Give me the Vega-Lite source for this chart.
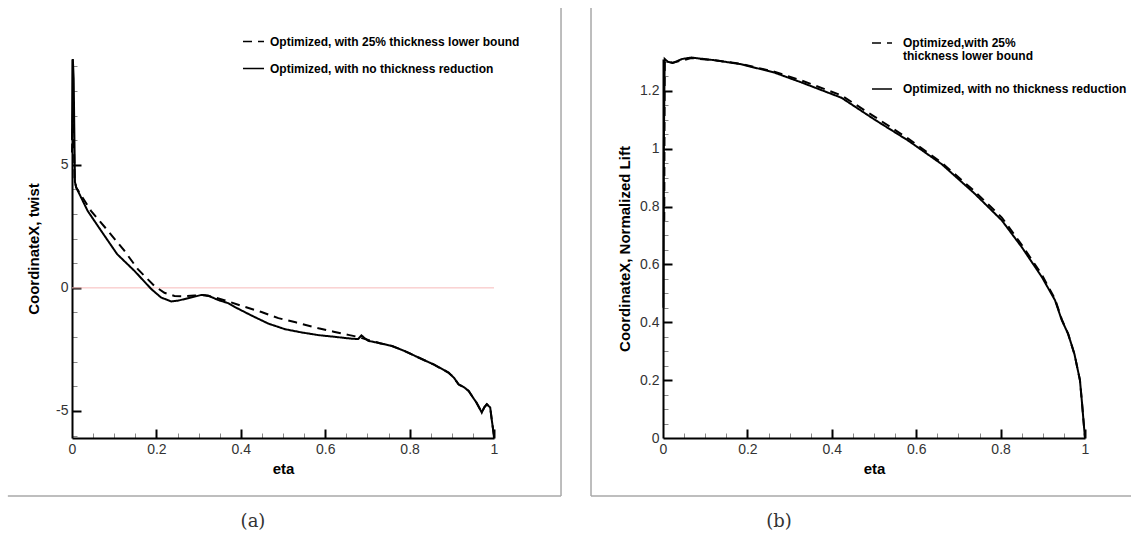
{
  "$schema": "https://vega.github.io/schema/vega-lite/v6.json",
  "background": "white",
  "padding": {"left": 7, "top": 7, "right": 0, "bottom": 0},
  "spacing": 28,
  "config": {
    "font": "Liberation Sans",
    "view": {"stroke": null},
    "style": {"guide-label": {"lineHeight": 13}},
    "axis": {
      "grid": false,
      "labelFont": "Liberation Sans",
      "labelFontSize": 14,
      "labelColor": "#333333",
      "labelFlush": false,
      "labelOverlap": false,
      "labelPadding": 4,
      "domainColor": "black",
      "domainWidth": 2,
      "titleFont": "Liberation Sans",
      "titleFontSize": 15,
      "titleFontWeight": "bold",
      "titleColor": "black"
    },
    "legend": {
      "title": null,
      "orient": "none",
      "labelFont": "Liberation Sans",
      "labelFontSize": 12,
      "labelFontWeight": "bold",
      "labelColor": "black",
      "labelLimit": 0,
      "symbolType": "stroke",
      "symbolStrokeColor": "black",
      "symbolStrokeWidth": 1.5
    }
  },
  "resolve": {
    "scale": {"x": "independent", "y": "independent", "strokeDash": "independent"},
    "legend": {"strokeDash": "independent"}
  },
  "hconcat": [
    {
      "width": 422,
      "height": 379,
      "title": {"text": "(a)", "orient": "bottom", "anchor": "middle", "font": "DejaVu Serif", "fontSize": 18, "fontWeight": "normal", "color": "#333333", "offset": 16, "dx": -30},
      "data": {
        "values": [
          {"eta": 0.000, "v": 5.5, "s": "bound"},
          {"eta": 0.003, "v": 7.6, "s": "bound"},
          {"eta": 0.006, "v": 4.4, "s": "bound"},
          {"eta": 0.010, "v": 4.08, "s": "bound"},
          {"eta": 0.045, "v": 3.13, "s": "bound"},
          {"eta": 0.085, "v": 2.32, "s": "bound"},
          {"eta": 0.124, "v": 1.51, "s": "bound"},
          {"eta": 0.156, "v": 0.76, "s": "bound"},
          {"eta": 0.195, "v": 0.08, "s": "bound"},
          {"eta": 0.219, "v": -0.2, "s": "bound"},
          {"eta": 0.243, "v": -0.33, "s": "bound"},
          {"eta": 0.267, "v": -0.34, "s": "bound"},
          {"eta": 0.290, "v": -0.31, "s": "bound"},
          {"eta": 0.310, "v": -0.29, "s": "bound"},
          {"eta": 0.330, "v": -0.35, "s": "bound"},
          {"eta": 0.361, "v": -0.5, "s": "bound"},
          {"eta": 0.409, "v": -0.77, "s": "bound"},
          {"eta": 0.449, "v": -0.98, "s": "bound"},
          {"eta": 0.489, "v": -1.23, "s": "bound"},
          {"eta": 0.530, "v": -1.4, "s": "bound"},
          {"eta": 0.584, "v": -1.64, "s": "bound"},
          {"eta": 0.620, "v": -1.78, "s": "bound"},
          {"eta": 0.655, "v": -1.91, "s": "bound"},
          {"eta": 0.680, "v": -2.0, "s": "bound"},
          {"eta": 0.702, "v": -2.12, "s": "bound"},
          {"eta": 0.730, "v": -2.25, "s": "bound"},
          {"eta": 0.758, "v": -2.36, "s": "bound"},
          {"eta": 0.790, "v": -2.58, "s": "bound"},
          {"eta": 0.821, "v": -2.83, "s": "bound"},
          {"eta": 0.858, "v": -3.12, "s": "bound"},
          {"eta": 0.892, "v": -3.44, "s": "bound"},
          {"eta": 0.905, "v": -3.65, "s": "bound"},
          {"eta": 0.916, "v": -3.92, "s": "bound"},
          {"eta": 0.930, "v": -4.05, "s": "bound"},
          {"eta": 0.940, "v": -4.19, "s": "bound"},
          {"eta": 0.950, "v": -4.45, "s": "bound"},
          {"eta": 0.958, "v": -4.65, "s": "bound"},
          {"eta": 0.966, "v": -4.9, "s": "bound"},
          {"eta": 0.971, "v": -5.07, "s": "bound"},
          {"eta": 0.977, "v": -4.85, "s": "bound"},
          {"eta": 0.983, "v": -4.73, "s": "bound"},
          {"eta": 0.991, "v": -4.86, "s": "bound"},
          {"eta": 0.995, "v": -5.4, "s": "bound"},
          {"eta": 0.999, "v": -5.9, "s": "bound"},
          {"eta": 1.000, "v": -6.1, "s": "bound"},
          {"eta": 0.000, "v": 6.0, "s": "none"},
          {"eta": 0.002, "v": 9.3, "s": "none"},
          {"eta": 0.004, "v": 8.5, "s": "none"},
          {"eta": 0.007, "v": 4.3, "s": "none"},
          {"eta": 0.010, "v": 4.08, "s": "none"},
          {"eta": 0.037, "v": 3.13, "s": "none"},
          {"eta": 0.069, "v": 2.32, "s": "none"},
          {"eta": 0.107, "v": 1.37, "s": "none"},
          {"eta": 0.148, "v": 0.69, "s": "none"},
          {"eta": 0.188, "v": -0.05, "s": "none"},
          {"eta": 0.211, "v": -0.39, "s": "none"},
          {"eta": 0.235, "v": -0.55, "s": "none"},
          {"eta": 0.251, "v": -0.52, "s": "none"},
          {"eta": 0.275, "v": -0.42, "s": "none"},
          {"eta": 0.306, "v": -0.29, "s": "none"},
          {"eta": 0.322, "v": -0.31, "s": "none"},
          {"eta": 0.346, "v": -0.49, "s": "none"},
          {"eta": 0.370, "v": -0.62, "s": "none"},
          {"eta": 0.386, "v": -0.78, "s": "none"},
          {"eta": 0.425, "v": -1.12, "s": "none"},
          {"eta": 0.465, "v": -1.45, "s": "none"},
          {"eta": 0.505, "v": -1.68, "s": "none"},
          {"eta": 0.544, "v": -1.81, "s": "none"},
          {"eta": 0.584, "v": -1.92, "s": "none"},
          {"eta": 0.623, "v": -1.99, "s": "none"},
          {"eta": 0.660, "v": -2.06, "s": "none"},
          {"eta": 0.678, "v": -2.08, "s": "none"},
          {"eta": 0.686, "v": -1.93, "s": "none"},
          {"eta": 0.694, "v": -2.05, "s": "none"},
          {"eta": 0.702, "v": -2.15, "s": "none"},
          {"eta": 0.730, "v": -2.25, "s": "none"},
          {"eta": 0.758, "v": -2.36, "s": "none"},
          {"eta": 0.790, "v": -2.58, "s": "none"},
          {"eta": 0.821, "v": -2.83, "s": "none"},
          {"eta": 0.858, "v": -3.12, "s": "none"},
          {"eta": 0.892, "v": -3.44, "s": "none"},
          {"eta": 0.905, "v": -3.65, "s": "none"},
          {"eta": 0.916, "v": -3.92, "s": "none"},
          {"eta": 0.930, "v": -4.05, "s": "none"},
          {"eta": 0.940, "v": -4.19, "s": "none"},
          {"eta": 0.950, "v": -4.45, "s": "none"},
          {"eta": 0.958, "v": -4.65, "s": "none"},
          {"eta": 0.966, "v": -4.9, "s": "none"},
          {"eta": 0.971, "v": -5.07, "s": "none"},
          {"eta": 0.977, "v": -4.85, "s": "none"},
          {"eta": 0.983, "v": -4.73, "s": "none"},
          {"eta": 0.991, "v": -4.86, "s": "none"},
          {"eta": 0.995, "v": -5.4, "s": "none"},
          {"eta": 0.999, "v": -5.9, "s": "none"},
          {"eta": 1.000, "v": -6.1, "s": "none"}
        ]
      },
      "resolve": {"axis": {"x": "independent", "y": "independent"}},
      "layer": [
        {
          "data": {"values": [{}]},
          "mark": {"type": "rule", "color": "#a8a8a8", "strokeWidth": 1.5, "clip": false},
          "encoding": {
            "x": {"datum": -0.152, "type": "quantitative", "scale": {"domain": [0, 1], "nice": false, "zero": false}, "axis": null},
            "x2": {"datum": 1.1588},
            "y": {"datum": -8.457, "type": "quantitative", "scale": {"domain": [-6.1, 9.3], "nice": false, "zero": false}, "axis": null}
          }
        },
        {
          "data": {"values": [{}]},
          "mark": {"type": "rule", "color": "#a8a8a8", "strokeWidth": 1.5, "clip": false},
          "encoding": {
            "x": {"datum": 1.1588, "type": "quantitative", "scale": {"domain": [0, 1], "nice": false, "zero": false}, "axis": null},
            "y": {"datum": 11.37, "type": "quantitative", "scale": {"domain": [-6.1, 9.3], "nice": false, "zero": false}, "axis": null},
            "y2": {"datum": -8.457}
          }
        },
        {
          "data": {"values": [{}]},
          "mark": {"type": "rule", "color": "#f7b9b9", "strokeWidth": 1},
          "encoding": {
            "x": {"datum": 0, "type": "quantitative", "scale": {"domain": [0, 1], "nice": false, "zero": false},
                  "axis": {"values": [0.05, 0.1, 0.15, 0.25, 0.3, 0.35, 0.45, 0.5, 0.55, 0.65, 0.7, 0.75, 0.85, 0.9, 0.95],
                           "labels": false, "domain": false, "title": null, "orient": "bottom",
                           "ticks": true, "tickSize": 5, "tickWidth": 1, "tickColor": "#888888", "offset": -5}},
            "x2": {"datum": 1},
            "y": {"datum": 0, "type": "quantitative", "scale": {"domain": [-6.1, 9.3], "nice": false, "zero": false},
                  "axis": {"values": [-6, -4, -3, -2, -1, 1, 2, 3, 4, 6, 7, 8, 9],
                           "labels": false, "domain": false, "title": null, "orient": "left",
                           "ticks": true, "tickSize": 5, "tickWidth": 1, "tickColor": "#888888", "offset": -5}}
          }
        },
        {
          "transform": [{"filter": "datum.s == 'bound'"}],
          "mark": {"type": "line", "color": "black", "strokeWidth": 2},
          "encoding": {
            "x": {"field": "eta", "type": "quantitative", "scale": {"domain": [0, 1], "nice": false, "zero": false},
                  "axis": {"values": [0, 0.2, 0.4, 0.6, 0.8, 1], "format": "~g", "title": "eta", "titlePadding": 5, "orient": "bottom", "ticks": false}},
            "y": {"field": "v", "type": "quantitative", "scale": {"domain": [-6.1, 9.3], "nice": false, "zero": false},
                  "axis": {"values": [-5, 0, 5], "format": "~g", "labelExpr": "replace(datum.label, '\u2212', '-')", "title": "CoordinateX, twist", "titlePadding": 14, "orient": "left", "ticks": false}},
            "strokeDash": {"field": "s", "type": "nominal",
                  "scale": {"domain": ["bound", "none"], "range": [[9, 6], [1, 0]]},
                  "legend": {"legendX": 170, "legendY": -29, "symbolSize": 441, "labelOffset": 5, "rowPadding": 9,
                             "labelExpr": "datum.label == 'bound' ? 'Optimized, with 25% thickness lower bound' : 'Optimized, with no thickness reduction'"}}
          }
        },
        {
          "transform": [{"filter": "datum.s == 'none'"}],
          "mark": {"type": "line", "color": "black", "strokeWidth": 2},
          "encoding": {
            "x": {"field": "eta", "type": "quantitative", "scale": {"domain": [0, 1], "nice": false, "zero": false},
                  "axis": {"values": [0.2, 0.4, 0.6, 0.8, 1], "labels": false, "domain": false, "title": null, "orient": "bottom",
                           "ticks": true, "tickSize": 9, "tickWidth": 2, "tickColor": "black", "offset": -9}},
            "y": {"field": "v", "type": "quantitative", "scale": {"domain": [-6.1, 9.3], "nice": false, "zero": false},
                  "axis": {"values": [-5, 0, 5], "labels": false, "domain": false, "title": null, "orient": "left",
                           "ticks": true, "tickSize": 9, "tickWidth": 2, "tickColor": "black", "offset": -9}},
            "strokeDash": {"field": "s", "type": "nominal",
                  "scale": {"domain": ["bound", "none"], "range": [[9, 6], [1, 0]]},
                  "legend": {"legendX": 170, "legendY": -29, "symbolSize": 441, "labelOffset": 5, "rowPadding": 9,
                             "labelExpr": "datum.label == 'bound' ? 'Optimized, with 25% thickness lower bound' : 'Optimized, with no thickness reduction'"}}
          }
        }
      ]
    },
    {
      "width": 422,
      "height": 379,
      "title": {"text": "(b)", "orient": "bottom", "anchor": "middle", "font": "DejaVu Serif", "fontSize": 18, "fontWeight": "normal", "color": "#333333", "offset": 16, "dx": -95},
      "data": {
        "values": [
          {"eta": 0.003, "v": 0.75, "s": "bound"},
          {"eta": 0.004, "v": 1.3, "s": "bound"},
          {"eta": 0.012, "v": 1.3, "s": "bound"},
          {"eta": 0.023, "v": 1.297, "s": "bound"},
          {"eta": 0.067, "v": 1.313, "s": "bound"},
          {"eta": 0.121, "v": 1.306, "s": "bound"},
          {"eta": 0.185, "v": 1.293, "s": "bound"},
          {"eta": 0.264, "v": 1.266, "s": "bound"},
          {"eta": 0.328, "v": 1.236, "s": "bound"},
          {"eta": 0.423, "v": 1.184, "s": "bound"},
          {"eta": 0.502, "v": 1.11, "s": "bound"},
          {"eta": 0.581, "v": 1.035, "s": "bound"},
          {"eta": 0.660, "v": 0.952, "s": "bound"},
          {"eta": 0.739, "v": 0.852, "s": "bound"},
          {"eta": 0.803, "v": 0.762, "s": "bound"},
          {"eta": 0.850, "v": 0.668, "s": "bound"},
          {"eta": 0.898, "v": 0.564, "s": "bound"},
          {"eta": 0.929, "v": 0.48, "s": "bound"},
          {"eta": 0.945, "v": 0.41, "s": "bound"},
          {"eta": 0.960, "v": 0.36, "s": "bound"},
          {"eta": 0.975, "v": 0.29, "s": "bound"},
          {"eta": 0.988, "v": 0.2, "s": "bound"},
          {"eta": 0.993, "v": 0.12, "s": "bound"},
          {"eta": 0.997, "v": 0.05, "s": "bound"},
          {"eta": 1.000, "v": 0.0, "s": "bound"},
          {"eta": 0.001, "v": 0.45, "s": "none"},
          {"eta": 0.002, "v": 1.0, "s": "none"},
          {"eta": 0.004, "v": 1.31, "s": "none"},
          {"eta": 0.012, "v": 1.3, "s": "none"},
          {"eta": 0.023, "v": 1.296, "s": "none"},
          {"eta": 0.045, "v": 1.31, "s": "none"},
          {"eta": 0.067, "v": 1.315, "s": "none"},
          {"eta": 0.121, "v": 1.306, "s": "none"},
          {"eta": 0.185, "v": 1.292, "s": "none"},
          {"eta": 0.264, "v": 1.263, "s": "none"},
          {"eta": 0.328, "v": 1.229, "s": "none"},
          {"eta": 0.423, "v": 1.176, "s": "none"},
          {"eta": 0.502, "v": 1.1, "s": "none"},
          {"eta": 0.581, "v": 1.028, "s": "none"},
          {"eta": 0.660, "v": 0.947, "s": "none"},
          {"eta": 0.739, "v": 0.844, "s": "none"},
          {"eta": 0.803, "v": 0.752, "s": "none"},
          {"eta": 0.850, "v": 0.66, "s": "none"},
          {"eta": 0.898, "v": 0.556, "s": "none"},
          {"eta": 0.929, "v": 0.476, "s": "none"},
          {"eta": 0.945, "v": 0.407, "s": "none"},
          {"eta": 0.960, "v": 0.36, "s": "none"},
          {"eta": 0.975, "v": 0.29, "s": "none"},
          {"eta": 0.988, "v": 0.2, "s": "none"},
          {"eta": 0.993, "v": 0.12, "s": "none"},
          {"eta": 0.997, "v": 0.05, "s": "none"},
          {"eta": 1.000, "v": 0.0, "s": "none"}
        ]
      },
      "resolve": {"axis": {"x": "independent", "y": "independent"}},
      "layer": [
        {
          "data": {"values": [{}]},
          "mark": {"type": "rule", "color": "#a8a8a8", "strokeWidth": 1.5, "clip": false},
          "encoding": {
            "x": {"datum": -0.1706, "type": "quantitative", "scale": {"domain": [0, 1], "nice": false, "zero": false},
                  "axis": {"values": [0.05, 0.1, 0.15, 0.25, 0.3, 0.35, 0.45, 0.5, 0.55, 0.65, 0.7, 0.75, 0.85, 0.9, 0.95],
                           "labels": false, "domain": false, "title": null, "orient": "bottom",
                           "ticks": true, "tickSize": 5, "tickWidth": 1, "tickColor": "#888888", "offset": -5}},
            "x2": {"datum": 1.111},
            "y": {"datum": -0.2005, "type": "quantitative", "scale": {"domain": [0, 1.31], "nice": false, "zero": false},
                  "axis": {"values": [0.05, 0.1, 0.15, 0.25, 0.3, 0.35, 0.45, 0.5, 0.55, 0.65, 0.7, 0.75, 0.85, 0.9, 0.95, 1.05, 1.1, 1.15, 1.25, 1.3],
                           "labels": false, "domain": false, "title": null, "orient": "left",
                           "ticks": true, "tickSize": 5, "tickWidth": 1, "tickColor": "#888888", "offset": -5}}
          }
        },
        {
          "data": {"values": [{}]},
          "mark": {"type": "rule", "color": "#a8a8a8", "strokeWidth": 1.5, "clip": false},
          "encoding": {
            "x": {"datum": -0.1706, "type": "quantitative", "scale": {"domain": [0, 1], "nice": false, "zero": false}, "axis": null},
            "y": {"datum": 1.486, "type": "quantitative", "scale": {"domain": [0, 1.31], "nice": false, "zero": false}, "axis": null},
            "y2": {"datum": -0.2005}
          }
        },
        {
          "transform": [{"filter": "datum.s == 'bound'"}],
          "mark": {"type": "line", "color": "black", "strokeWidth": 2},
          "encoding": {
            "x": {"field": "eta", "type": "quantitative", "scale": {"domain": [0, 1], "nice": false, "zero": false},
                  "axis": {"values": [0, 0.2, 0.4, 0.6, 0.8, 1], "format": "~g", "title": "eta", "titlePadding": 5, "orient": "bottom", "ticks": false}},
            "y": {"field": "v", "type": "quantitative", "scale": {"domain": [0, 1.31], "nice": false, "zero": false},
                  "axis": {"values": [0, 0.2, 0.4, 0.6, 0.8, 1, 1.2], "format": "~g", "title": "CoordinateX, Normalized Lift", "titlePadding": 7, "orient": "left", "ticks": false}},
            "strokeDash": {"field": "s", "type": "nominal",
                  "scale": {"domain": ["bound", "none"], "range": [[9, 6], [1, 0]]},
                  "legend": {"legendX": 208, "legendY": -27, "symbolSize": 400, "labelOffset": 10, "rowPadding": 16,
                             "labelExpr": "datum.label == 'bound' ? ['Optimized,with 25%', ' thickness lower bound'] : 'Optimized, with no thickness reduction'"}}
          }
        },
        {
          "transform": [{"filter": "datum.s == 'none'"}],
          "mark": {"type": "line", "color": "black", "strokeWidth": 2},
          "encoding": {
            "x": {"field": "eta", "type": "quantitative", "scale": {"domain": [0, 1], "nice": false, "zero": false},
                  "axis": {"values": [0.2, 0.4, 0.6, 0.8, 1], "labels": false, "domain": false, "title": null, "orient": "bottom",
                           "ticks": true, "tickSize": 9, "tickWidth": 2, "tickColor": "black", "offset": -9}},
            "y": {"field": "v", "type": "quantitative", "scale": {"domain": [0, 1.31], "nice": false, "zero": false},
                  "axis": {"values": [0.2, 0.4, 0.6, 0.8, 1, 1.2], "labels": false, "domain": false, "title": null, "orient": "left",
                           "ticks": true, "tickSize": 9, "tickWidth": 2, "tickColor": "black", "offset": -9}},
            "strokeDash": {"field": "s", "type": "nominal",
                  "scale": {"domain": ["bound", "none"], "range": [[9, 6], [1, 0]]},
                  "legend": {"legendX": 208, "legendY": -27, "symbolSize": 400, "labelOffset": 10, "rowPadding": 16,
                             "labelExpr": "datum.label == 'bound' ? ['Optimized,with 25%', ' thickness lower bound'] : 'Optimized, with no thickness reduction'"}}
          }
        }
      ]
    }
  ]
}
